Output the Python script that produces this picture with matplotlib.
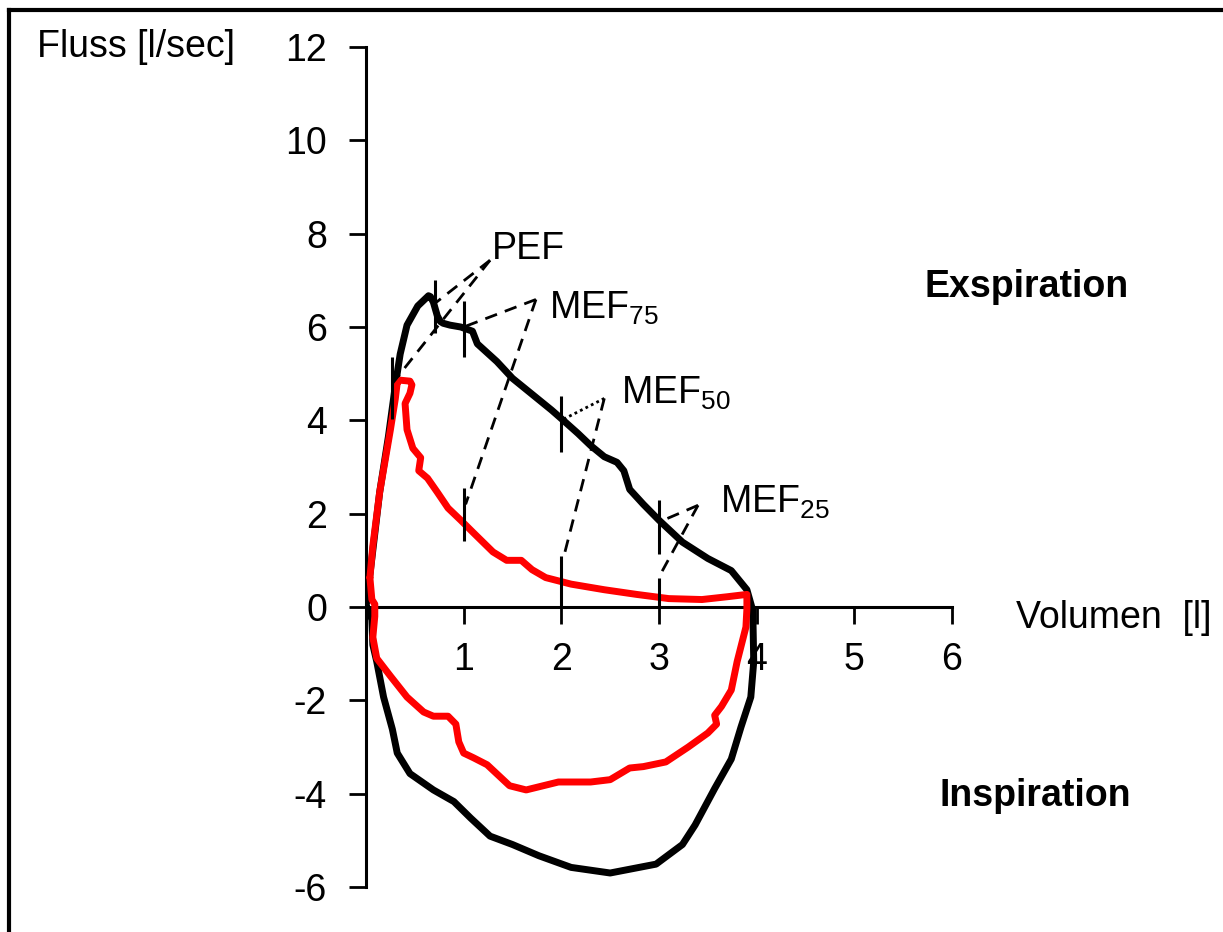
import matplotlib
matplotlib.use('Agg')
import matplotlib.pyplot as plt
from matplotlib.lines import Line2D

plt.rcParams['font.family'] = ['Liberation Sans', 'DejaVu Sans']
plt.rcParams['mathtext.fontset'] = 'custom'
plt.rcParams['mathtext.rm'] = 'Liberation Sans'
plt.rcParams['mathtext.it'] = 'Liberation Sans'
plt.rcParams['axes.unicode_minus'] = False

# black loop (expiration then inspiration), volume [l] / flow [l/sec]
black_x = [0.00, 0.06, 0.14, 0.23, 0.30, 0.35, 0.42, 0.53, 0.64, 0.66, 0.69, 0.73, 0.76, 0.79,
           0.86, 0.97, 1.09, 1.14, 1.34, 1.50, 1.70, 1.90, 2.02, 2.17, 2.30, 2.44, 2.57, 2.64,
           2.70, 2.84, 3.00, 3.24, 3.50, 3.74, 3.90, 3.95,
           3.96, 3.97, 3.94, 3.84, 3.74, 3.57, 3.37, 3.24, 2.97, 2.50, 2.10, 1.77, 1.50, 1.27,
           1.07, 0.90, 0.69, 0.45, 0.32, 0.27, 0.18, 0.11, 0.07, 0.06, 0.02, 0.00]
black_y = [0.00, 1.04, 2.46, 3.66, 4.74, 5.42, 6.04, 6.45, 6.67, 6.65, 6.53, 6.24, 6.12, 6.08,
           6.04, 6.00, 5.91, 5.64, 5.26, 4.90, 4.56, 4.22, 4.00, 3.72, 3.46, 3.22, 3.10, 2.92,
           2.52, 2.20, 1.86, 1.39, 1.04, 0.78, 0.37, 0.00,
           -0.04, -1.17, -1.93, -2.57, -3.26, -3.89, -4.67, -5.09, -5.51, -5.70, -5.58, -5.33,
           -5.09, -4.91, -4.52, -4.17, -3.92, -3.57, -3.13, -2.62, -1.93, -1.17, -0.81, -0.27,
           -0.04, 0.00]

# red loop
red_x = [0.04, 0.07, 0.14, 0.25, 0.30, 0.32, 0.35, 0.45, 0.47, 0.45, 0.40, 0.42, 0.48, 0.56,
         0.54, 0.63, 0.73, 0.84, 0.97, 1.10, 1.30, 1.44, 1.59, 1.70, 1.84, 2.10, 2.44, 2.77,
         3.10, 3.44, 3.70, 3.90, 3.90, 3.89, 3.80, 3.74, 3.64, 3.57, 3.59, 3.50, 3.30, 3.07,
         2.84, 2.70, 2.50, 2.30, 1.97, 1.64, 1.47, 1.24, 1.10, 1.00, 0.95, 0.92, 0.84, 0.69,
         0.59, 0.42, 0.25, 0.11, 0.07, 0.09, 0.09, 0.06, 0.04]
red_y = [0.63, 1.31, 2.46, 3.80, 4.46, 4.81, 4.86, 4.84, 4.76, 4.58, 4.36, 3.80, 3.40, 3.20,
         2.92, 2.76, 2.46, 2.12, 1.86, 1.59, 1.18, 1.00, 1.00, 0.80, 0.63, 0.49, 0.37, 0.27,
         0.18, 0.16, 0.22, 0.27, -0.04, -0.43, -1.17, -1.78, -2.13, -2.32, -2.51, -2.70, -3.00,
         -3.32, -3.42, -3.45, -3.70, -3.75, -3.75, -3.92, -3.83, -3.38, -3.23, -3.13, -2.89,
         -2.51, -2.34, -2.34, -2.25, -1.93, -1.48, -1.10, -0.65, -0.20, 0.06, 0.16, 0.63]

# vertical marker strokes
mark_x = [0.27, 0.71, 1.0, 2.0, 3.0, 1.0, 2.0, 3.0]
mark_lo = [4.02, 5.87, 5.35, 3.32, 1.14, 1.41, 0.0, 0.0]
mark_hi = [5.35, 7.00, 6.55, 4.52, 2.30, 2.56, 1.10, 0.63]

# labels and their leader lines
labels = ['PEF', 'MEF$_{75}$', 'MEF$_{50}$', 'MEF$_{25}$']
label_x = [1.29, 1.87, 2.61, 3.62]
label_y = [7.67, 6.39, 4.58, 2.24]
anchor_x = [1.27, 1.74, 2.44, 3.40]
anchor_y = [7.43, 6.59, 4.47, 2.18]
upper_x = [0.72, 1.00, 2.00, 3.00]
upper_y = [6.53, 6.00, 4.00, 1.82]
lower_x = [0.27, 1.02, 2.02, 3.02]
lower_y = [4.79, 2.20, 1.04, 0.72]
upper_style = ['dashed', 'dashed', 'dotted', 'dashed']

W, H = 1223, 932
fs = 27
fig = plt.figure(figsize=(W / 100, H / 100), dpi=100)
ax = fig.add_axes([366 / W, 1 - 887 / H, (952 - 366) / W, (887 - 47) / H])

ax.plot(black_x, black_y, color='black', lw=5, solid_joinstyle='round',
        solid_capstyle='round', zorder=3)
ax.plot(red_x, red_y, color='#ff0000', lw=5, solid_joinstyle='round',
        solid_capstyle='round', zorder=4)

ax.vlines(mark_x, mark_lo, mark_hi, color='black', lw=2.2, zorder=5)

dash = (0, (4.5, 3))
dot = (0, (1, 1.2))
for i in range(len(labels)):
    ls = dot if upper_style[i] == 'dotted' else dash
    ax.plot([anchor_x[i], upper_x[i]], [anchor_y[i], upper_y[i]], color='black',
            lw=2, linestyle=ls, zorder=5)
    ax.plot([anchor_x[i], lower_x[i]], [anchor_y[i], lower_y[i]], color='black',
            lw=2, linestyle=dash, zorder=5)
    ax.text(label_x[i], label_y[i], labels[i], fontsize=fs, ha='left', va='center')

ax.set_xlim(0, 6)
ax.set_ylim(-6, 12)
ax.set_xticks([1, 2, 3, 4, 5, 6])
ax.set_yticks(range(-6, 13, 2))
ax.set_yticklabels([str(v) for v in range(-6, 13, 2)])
ax.spines['top'].set_visible(False)
ax.spines['right'].set_visible(False)
ax.spines['bottom'].set_position(('data', 0))
ax.spines['left'].set_linewidth(2.2)
ax.spines['bottom'].set_linewidth(2.2)
ax.tick_params(axis='both', direction='out', length=12, width=2.0, labelsize=fs)
ax.tick_params(axis='y', pad=16)
ax.tick_params(axis='x', pad=13)
ax.set_facecolor('none')

fig.text(37 / W, 1 - 47 / H, 'Fluss [l/sec]', fontsize=fs, ha='left', va='center')
fig.text(1016 / W, 1 - 618 / H, 'Volumen  [l]', fontsize=fs, ha='left', va='center')
fig.text(924 / W, 1 - 287 / H, 'Exspiration', fontsize=fs, fontweight='bold',
         ha='left', va='center')
fig.text(940 / W, 1 - 796 / H, 'Inspiration', fontsize=fs, fontweight='bold',
         ha='left', va='center')

# frame around the picture
fig.add_artist(Line2D([9 / W, 9 / W], [0, 1 - 9.5 / H], color='black', lw=3,
                      transform=fig.transFigure))
fig.add_artist(Line2D([9 / W, 1], [1 - 9.5 / H, 1 - 9.5 / H], color='black', lw=3,
                      transform=fig.transFigure))

fig.savefig('out.png', dpi=100)
